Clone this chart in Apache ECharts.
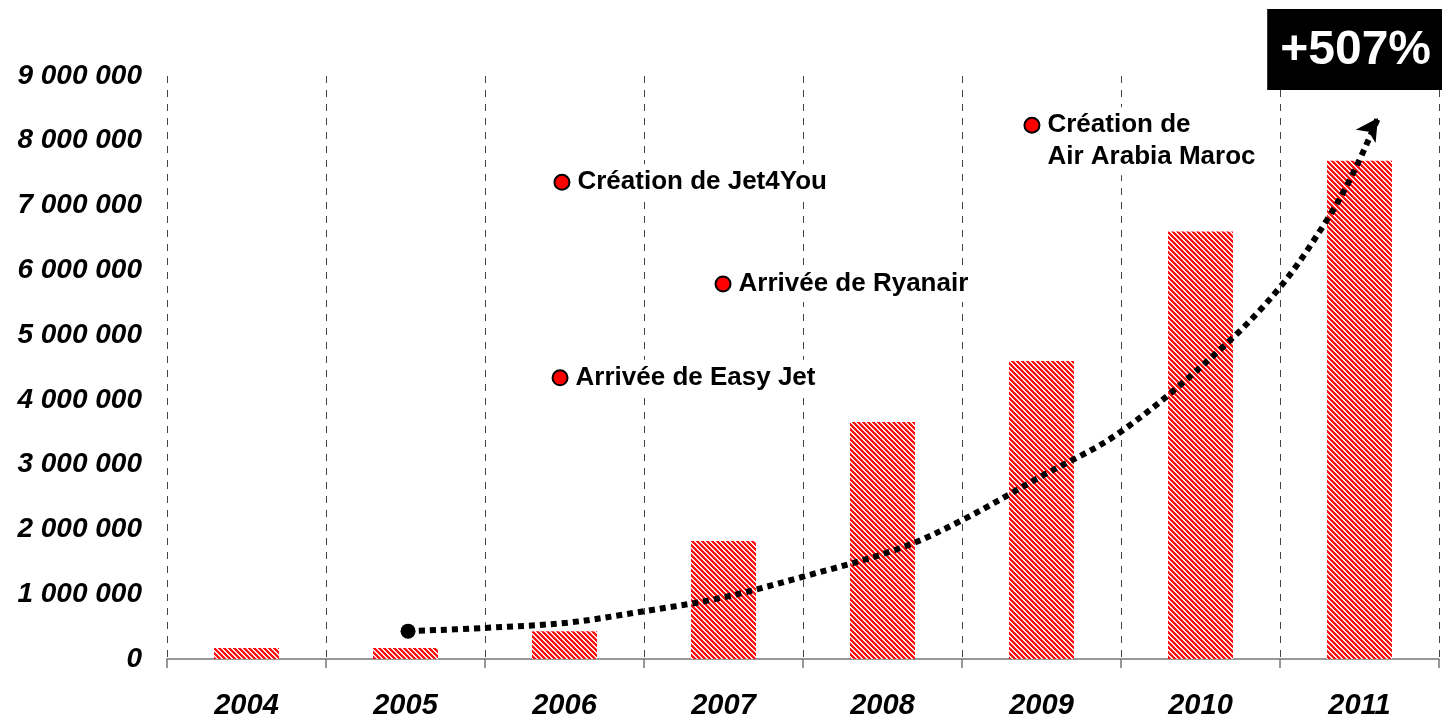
<!DOCTYPE html>
<html>
<head>
<meta charset="utf-8">
<script src="https://cdn.jsdelivr.net/npm/echarts@6/dist/echarts.min.js"></script>
<style>
  html, body { margin: 0; padding: 0; background: #fff; }
  #chart { width: 1442px; height: 718px; }
</style>
</head>
<body>
<div id="chart"></div>
<script>
// données
const years = ['2004', '2005', '2006', '2007', '2008', '2009', '2010', '2011'];
const passengers = [170000, 170000, 430000, 1820000, 3660000, 4600000, 6600000, 7690000];

// événements (x = position sur l'axe des années, 0 = 2004)
const eventNames = ['Création de Jet4You', 'Arrivée de Ryanair', 'Arrivée de Easy Jet', 'Création de\nAir Arabia Maroc'];
const eventX = [1.984, 2.997, 1.972, 4.94];
const eventY = [7360000, 5790000, 4340000, 8240000];

// courbe de tendance
const trendX = [1.016, 1.5, 2.016, 2.506, 2.978, 3.5, 4.11, 4.506, 4.99, 5.494, 6.12, 6.5, 6.796, 6.96, 7.116];
const trendY = [430000, 480000, 560000, 740000, 940000, 1270000, 1710000, 2150000, 2810000, 3500000, 4770000, 5740000, 6780000, 7500000, 8350000];

const growthLabel = '+507%';

const font = 'Liberation Sans, Arial, sans-serif';

// motif hachuré rouge (diagonales "\")
function hatch() {
  const n = 5;
  const c = document.createElement('canvas');
  c.width = n; c.height = n;
  const ctx = c.getContext('2d');
  for (let y = 0; y < n; y++) {
    for (let x = 0; x < n; x++) {
      const k = ((x - y) % n + n) % n;
      ctx.fillStyle = k < 3 ? '#ff1010' : (k === 3 ? '#ffd0d0' : '#ffffff');
      ctx.fillRect(x, y, 1, 1);
    }
  }
  return c;
}

const fmt = v => String(v).replace(/\B(?=(\d{3})+(?!\d))/g, ' ');

const trendData = trendX.map((x, i) => {
  const item = { value: [x, trendY[i]] };
  if (i === 0) {
    item.symbol = 'circle';
    item.symbolSize = 15;
  } else if (i === trendX.length - 1) {
    item.symbol = 'arrow';
    item.symbolSize = [18, 22];
    item.symbolRotate = -34;
  }
  return item;
});

const eventData = eventNames.map((n, i) => {
  const item = { name: n, value: [eventX[i], eventY[i]] };
  if (n.indexOf('\n') >= 0) item.label = { offset: [0, 16] };
  return item;
});

const chart = echarts.init(document.getElementById('chart'));
chart.setOption({
  animation: false,
  title: {
    text: growthLabel,
    right: 0,
    top: 9,
    backgroundColor: '#000',
    padding: [17, 11, 15, 13],
    textStyle: { fontFamily: font, fontSize: 48, fontWeight: 'bold', color: '#fff', lineHeight: 49 },
    z: 10
  },
  grid: { left: 167, right: 3, top: 76, bottom: 59, outerBoundsMode: 'none', containLabel: false },
  xAxis: [
    {
      type: 'category',
      data: years,
      boundaryGap: true,
      axisLine: { lineStyle: { color: '#777', width: 1.5 } },
      axisTick: { show: true, length: 9, lineStyle: { color: '#777', width: 1.5 } },
      axisLabel: { margin: 32, fontFamily: font, fontSize: 29, fontWeight: 'bold', fontStyle: 'italic', color: '#000' },
      splitLine: { show: true, lineStyle: { color: '#444', width: 1, type: [7, 7] } }
    },
    { type: 'value', min: -0.5, max: 7.5, show: false }
  ],
  yAxis: {
    type: 'value',
    min: 0,
    max: 9000000,
    interval: 1000000,
    axisLine: { show: false },
    axisTick: { show: false },
    splitLine: { show: false },
    axisLabel: { margin: 25, formatter: fmt, fontFamily: font, fontSize: 28, fontWeight: 'bold', fontStyle: 'italic', color: '#000' }
  },
  series: [
    {
      type: 'bar',
      data: passengers,
      barWidth: 65,
      itemStyle: { color: { image: hatch(), repeat: 'repeat' } },
      z: 2
    },
    {
      type: 'line',
      xAxisIndex: 1,
      data: trendData,
      smooth: 0.35,
      symbol: 'none',
      showSymbol: true,
      itemStyle: { color: '#000' },
      lineStyle: { color: '#000', width: 6, type: [6, 5], cap: 'butt' },
      z: 4
    },
    {
      type: 'scatter',
      xAxisIndex: 1,
      data: eventData,
      symbol: 'circle',
      symbolSize: 15,
      itemStyle: { color: '#ff0000', borderColor: '#000', borderWidth: 2, opacity: 1 },
      label: {
        show: true,
        position: 'right',
        distance: 5,
        formatter: p => p.name,
        fontFamily: font,
        fontSize: 26,
        fontWeight: 'bold',
        color: '#000',
        backgroundColor: '#fff',
        padding: [2, 2],
        lineHeight: 32
      },
      z: 6
    }
  ]
});
</script>
</body>
</html>
